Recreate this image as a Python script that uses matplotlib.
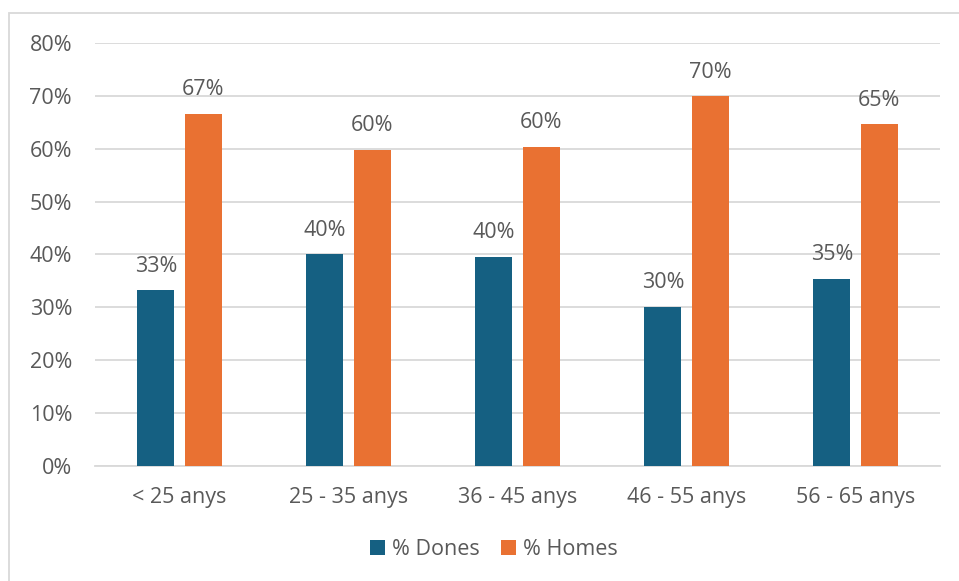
import matplotlib.pyplot as plt
import numpy as np
from matplotlib.patches import Rectangle

plt.rcParams["font.family"] = ["Open Sans", "DejaVu Sans"]

categories = ["< 25 anys", "25 - 35 anys", "36 - 45 anys", "46 - 55 anys", "56 - 65 anys"]
dones = [0.332, 0.400, 0.396, 0.301, 0.354]
homes = [0.666, 0.598, 0.604, 0.699, 0.646]
y_ticks = [0.0, 0.1, 0.2, 0.3, 0.4, 0.5, 0.6, 0.7, 0.8]

c_dones = "#156082"
c_homes = "#E97132"
c_text = "#595959"
c_grid = "#D9D9D9"
fs = 15.5

fig = plt.figure(figsize=(9.59, 5.81), dpi=100)
ax = fig.add_axes([0.0991, 0.198, 0.8811, 0.728])

# outer chart frame
fig.patches.append(Rectangle((9 / 959, -0.01), 1.0, 1 - 13 / 581 + 0.01,
                             transform=fig.transFigure, fill=False,
                             edgecolor="#D9D9D9", linewidth=1.3))

x = np.arange(len(categories))
w = 0.22
off = 0.14
b1 = ax.bar(x - off, dones, w, color=c_dones, label="% Dones", zorder=3)
b2 = ax.bar(x + off, homes, w, color=c_homes, label="% Homes", zorder=3)

for bars, vals in ((b1, dones), (b2, homes)):
    for rect, v in zip(bars, vals):
        ax.annotate(f"{v:.0%}", (rect.get_x() + rect.get_width() / 2, v),
                    xytext=(0, 10), textcoords="offset points",
                    ha="center", va="bottom", fontsize=fs, color=c_text)

ax.set_xlim(-0.5, len(categories) - 0.5)
ax.set_ylim(0, 0.8)
ax.set_yticks(y_ticks)
ax.set_yticklabels([f"{t:.0%}" for t in y_ticks])
ax.set_xticks(x)
ax.set_xticklabels(categories)
ax.tick_params(axis="both", length=0, labelsize=fs, colors=c_text)
ax.tick_params(axis="y", pad=16.5)
ax.tick_params(axis="x", pad=15.5)
ax.grid(axis="y", color=c_grid, linewidth=1.3, zorder=0)
for s in ("top", "right", "left"):
    ax.spines[s].set_visible(False)
ax.spines["bottom"].set_color(c_grid)
ax.spines["bottom"].set_linewidth(1.3)

leg = fig.legend(loc="center", bbox_to_anchor=(0.515, 0.054), ncol=2, frameon=False,
                 fontsize=fs, handlelength=0.7, handleheight=0.7, handletextpad=0.3,
                 columnspacing=1.0)
for t in leg.get_texts():
    t.set_color(c_text)

fig.savefig("out.png", dpi=100)
